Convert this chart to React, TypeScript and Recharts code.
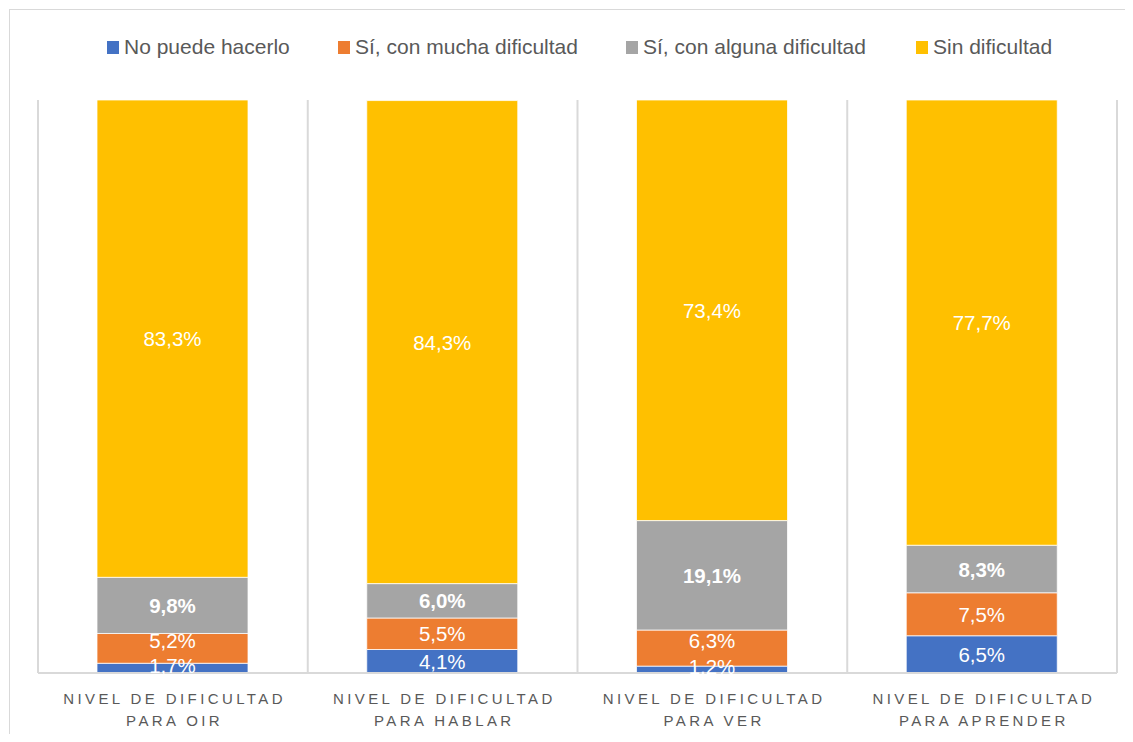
import React from "react";
import { BarChart, Bar, XAxis, YAxis, CartesianGrid, LabelList } from "recharts";

const TITLE = "realizar actividades esenciales en Colombia 2023";
const CATEGORIES = [
  "NIVEL DE DIFICULTAD\nPARA OIR",
  "NIVEL DE DIFICULTAD\nPARA HABLAR",
  "NIVEL DE DIFICULTAD\nPARA VER",
  "NIVEL DE DIFICULTAD\nPARA APRENDER",
];
const NO_PUEDE = [1.7, 4.1, 1.2, 6.5];
const MUCHA = [5.2, 5.5, 6.3, 7.5];
const ALGUNA = [9.8, 6.0, 19.1, 8.3];
const SIN = [83.3, 84.3, 73.4, 77.7];

const SERIES = [
  { key: "noPuede", name: "No puede hacerlo", color: "#4472C4", values: NO_PUEDE, bold: false },
  { key: "mucha", name: "Sí, con mucha dificultad", color: "#ED7D31", values: MUCHA, bold: false },
  { key: "alguna", name: "Sí, con alguna dificultad", color: "#A5A5A5", values: ALGUNA, bold: true },
  { key: "sin", name: "Sin dificultad", color: "#FFC000", values: SIN, bold: false },
];

const LEGEND_X = [107, 338, 626, 916];

const data = CATEGORIES.map((c, i) => {
  const row: any = { cat: c };
  SERIES.forEach((s) => (row[s.key] = s.values[i]));
  return row;
});

const FONT = "'Liberation Sans', Arial, sans-serif";
const fmt = (v: any) => Number(v).toFixed(1).replace(".", ",") + "%";

const Tick = (props: any) => {
  const { x, y, payload } = props;
  const lines = String(payload.value).split("\n");
  const ls = 3.4;
  return (
    <text textAnchor="middle" fill="#595959" fontSize={15} fontFamily={FONT} letterSpacing={ls}>
      {lines.map((l, i) => (
        <tspan key={i} x={x + ls / 2} y={y + 30.5 + i * 22}>
          {l}
        </tspan>
      ))}
    </text>
  );
};

// Excel-like label nudging when the segment below is very thin
const makeLabel = (seriesKey: string, bold: boolean) => (props: any) => {
  const { x, y, width, height, index, value } = props;
  let cy = Number(y) + Number(height) / 2;
  if (seriesKey === "mucha" && NO_PUEDE[index] < 2) cy -= 8;
  if (seriesKey === "noPuede" && Number(value) < 2) cy -= 3;
  return (
    <text
      x={Number(x) + Number(width) / 2}
      y={cy}
      textAnchor="middle"
      dominantBaseline="central"
      fill="#ffffff"
      fontSize={20.5}
      fontFamily={FONT}
      fontWeight={bold ? "bold" : "normal"}
    >
      {fmt(value)}
    </text>
  );
};

export default function App() {
  return (
    <div
      style={{
        position: "relative",
        width: 1133,
        height: 742,
        margin: -8,
        overflow: "hidden",
        background: "#fff",
        fontFamily: FONT,
      }}
    >
      <div
        style={{
          position: "absolute",
          left: 9,
          top: 9,
          width: 1200,
          height: 800,
          border: "1.5px solid #d9d9d9",
          boxSizing: "border-box",
        }}
      />
      <svg width={1133} height={20} style={{ position: "absolute", left: 0, top: 0, zIndex: 2 }}>
        <text x={490} y={4} textAnchor="middle" fill="#203864" fontWeight="bold" fontSize={18.5} fontFamily={FONT}>
          {TITLE}
        </text>
      </svg>
      {SERIES.map((s, i) => (
        <div
          key={s.key}
          style={{
            position: "absolute",
            left: LEGEND_X[i],
            top: 35,
            display: "flex",
            alignItems: "center",
            whiteSpace: "nowrap",
          }}
        >
          <span style={{ display: "inline-block", width: 12, height: 13, background: s.color, marginRight: 5 }} />
          <span style={{ fontSize: 21, color: "#595959", lineHeight: "24px" }}>{s.name}</span>
        </div>
      ))}
      <div style={{ position: "absolute", left: 0, top: 0 }}>
        <BarChart
          width={1133}
          height={742}
          data={data}
          margin={{ top: 100, left: 38, right: 16, bottom: 9 }}
          barSize={151}
        >
          <CartesianGrid
            vertical
            horizontal={false}
            stroke="#d9d9d9"
            strokeWidth={2}
            verticalCoordinatesGenerator={({ offset }: any) =>
              [...CATEGORIES, ""].map((_, i) => offset.left + (i * offset.width) / CATEGORIES.length)
            }
          />
          <XAxis
            dataKey="cat"
            height={60}
            tickSize={0}
            tickMargin={0}
            tickLine={false}
            axisLine={{ stroke: "#d9d9d9", strokeWidth: 2 }}
            tick={<Tick />}
            interval={0}
          />
          <YAxis hide domain={[0, 100]} />
          {SERIES.map((s) => (
            <Bar
              key={s.key}
              dataKey={s.key}
              stackId="a"
              fill={s.color}
              stroke="#ffffff"
              strokeWidth={0.75}
              isAnimationActive={false}
            >
              <LabelList dataKey={s.key} content={makeLabel(s.key, s.bold)} />
            </Bar>
          ))}
        </BarChart>
      </div>
    </div>
  );
}
